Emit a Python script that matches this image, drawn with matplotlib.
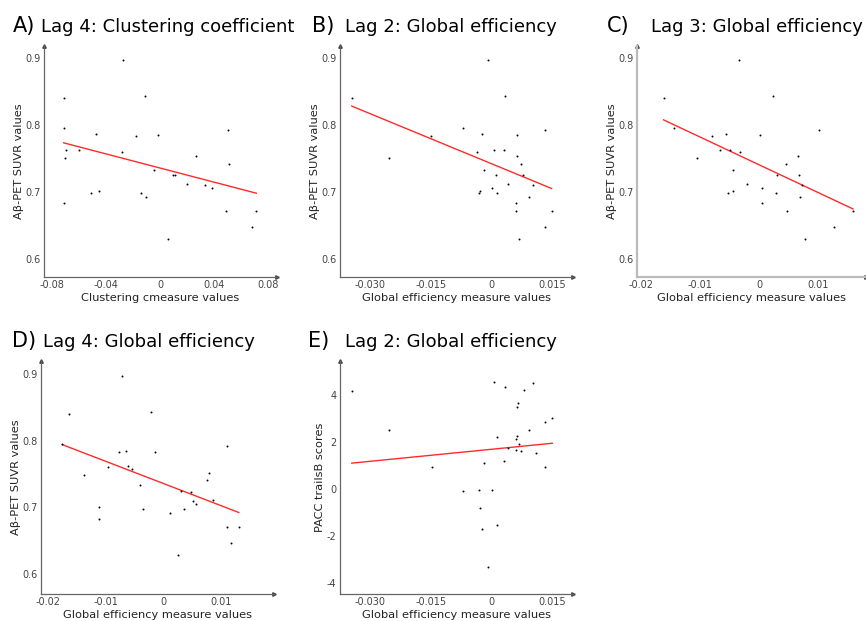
import matplotlib
matplotlib.use("Agg")
import matplotlib.pyplot as plt
import numpy as np

# A) Lag 4 clustering coefficient vs Abeta SUVR
clust_x = [-0.0711, -0.0714, -0.0696, -0.0701, -0.0709, -0.0600, -0.0474, -0.0509, -0.0452,
           -0.0274, -0.0281, -0.0114, -0.0180, -0.0141, -0.0101, -0.0012, -0.0047, 0.0094,
           0.0111, 0.0059, 0.0200, 0.0267, 0.0333, 0.0383, 0.0504, 0.0509, 0.0491, 0.0714, 0.0679]
clust_y = [0.840, 0.796, 0.762, 0.750, 0.684, 0.762, 0.786, 0.699, 0.702,
           0.897, 0.759, 0.843, 0.784, 0.699, 0.693, 0.785, 0.733, 0.726,
           0.725, 0.630, 0.712, 0.753, 0.710, 0.706, 0.793, 0.742, 0.672, 0.672, 0.647]

# B) Lag 2 global efficiency vs Abeta SUVR
ge2_x = [-0.0345, -0.0254, -0.0148, -0.0071, -0.0023, -0.0036, -0.0017, -0.0029, -0.0030,
         -0.0007, 0.0007, 0.0002, 0.0012, 0.0015, 0.0033, 0.0032, 0.0042, 0.0064, 0.0063,
         0.0073, 0.0061, 0.0060, 0.0078, 0.0068, 0.0103, 0.0094, 0.0134, 0.0134, 0.0149]
ge2_y = [0.840, 0.750, 0.784, 0.796, 0.786, 0.759, 0.733, 0.702, 0.699,
         0.897, 0.762, 0.706, 0.726, 0.699, 0.843, 0.762, 0.712, 0.785, 0.753,
         0.742, 0.684, 0.672, 0.725, 0.630, 0.710, 0.693, 0.793, 0.647, 0.672]

# C) Lag 3 global efficiency vs Abeta SUVR
ge3_x = [-0.0162, -0.0145, -0.0106, -0.0080, -0.0056, -0.0066, -0.0050, -0.0033, -0.0035,
         -0.0044, -0.0052, -0.0044, -0.0021, 0.0002, 0.0005, 0.0005, 0.0023, 0.0030, 0.0028,
         0.0046, 0.0047, 0.0065, 0.0068, 0.0073, 0.0069, 0.0102, 0.0078, 0.0127, 0.0159]
ge3_y = [0.840, 0.796, 0.750, 0.784, 0.786, 0.762, 0.762, 0.759, 0.897,
         0.733, 0.699, 0.702, 0.712, 0.785, 0.706, 0.684, 0.843, 0.725, 0.699,
         0.742, 0.672, 0.753, 0.726, 0.710, 0.693, 0.793, 0.630, 0.647, 0.672]

# D) Lag 4 global efficiency vs Abeta SUVR
ge4_x = [-0.0175, -0.0164, -0.0137, -0.0111, -0.0111, -0.0095, -0.0076, -0.0065, -0.0071,
         -0.0061, -0.0054, -0.0040, -0.0035, -0.0021, -0.0014, 0.0012, 0.0025, 0.0030, 0.0036,
         0.0048, 0.0051, 0.0057, 0.0076, 0.0080, 0.0086, 0.0110, 0.0110, 0.0117, 0.0131]
ge4_y = [0.795, 0.840, 0.749, 0.701, 0.682, 0.761, 0.783, 0.785, 0.898,
         0.763, 0.758, 0.733, 0.697, 0.843, 0.784, 0.691, 0.628, 0.724, 0.697,
         0.723, 0.710, 0.705, 0.741, 0.752, 0.711, 0.793, 0.670, 0.646, 0.670]

# E) Lag 2 global efficiency vs PACC trailsB
pacc_x = [-0.0345, -0.0254, -0.0147, -0.0070, -0.0030, 0.0002, -0.0028, -0.0022, -0.0007,
          0.0013, -0.0017, 0.0007, 0.0015, 0.0033, 0.0032, 0.0042, 0.0060, 0.0063, 0.0065,
          0.0064, 0.0062, 0.0068, 0.0074, 0.0080, 0.0094, 0.0103, 0.0110, 0.0134, 0.0134, 0.0151]
pacc_y = [4.17, 2.51, 0.95, -0.10, -0.04, -0.06, -0.79, -1.70, -3.30,
          -1.53, 1.12, 4.55, 2.23, 4.33, 1.19, 1.73, 2.11, 2.26, 3.65,
          3.49, 1.67, 1.91, 1.63, 4.21, 2.51, 4.52, 1.52, 2.84, 0.95, 3.02]

panels = [
    # letter, title, x, y, xlabel, ylabel, xlim, ylim, xticks, xticklabels, yticks, rect(px: left, top, right, bottom), title px
    ("A)", "Lag 4: Clustering coefficient", clust_x, clust_y, "Clustering cmeasure values", "A\u03b2-PET SUVR values",
     (-0.086, 0.0867), (0.573, 0.918), [-0.08, -0.04, 0, 0.04, 0.08], ["-0.08", "-0.04", "0", "0.04", "0.08"],
     [0.6, 0.7, 0.8, 0.9], ["0.6", "0.7", "0.8", "0.9"], (44, 46, 277, 277), (13, 41, 32)),
    ("B)", "Lag 2: Global efficiency", ge2_x, ge2_y, "Global efficiency measure values", "A\u03b2-PET SUVR values",
     (-0.0374, 0.0202), (0.573, 0.918), [-0.030, -0.015, 0, 0.015], ["-0.030", "-0.015", "0", "0.015"],
     [0.6, 0.7, 0.8, 0.9], ["0.6", "0.7", "0.8", "0.9"], (340, 46, 573, 277), (312, 345, 32)),
    ("C)", "Lag 3: Global efficiency", ge3_x, ge3_y, "Global efficiency measure values", "A\u03b2-PET SUVR values",
     (-0.0207, 0.0181), (0.573, 0.918), [-0.02, -0.01, 0, 0.01], ["-0.02", "-0.01", "0", "0.01"],
     [0.6, 0.7, 0.8, 0.9], ["0.6", "0.7", "0.8", "0.9"], (637, 46, 866, 277), (607, 651, 32)),
    ("D)", "Lag 4: Global efficiency", ge4_x, ge4_y, "Global efficiency measure values", "A\u03b2-PET SUVR values",
     (-0.0212, 0.0192), (0.570, 0.920), [-0.02, -0.01, 0, 0.01], ["-0.02", "-0.01", "0", "0.01"],
     [0.6, 0.7, 0.8, 0.9], ["0.6", "0.7", "0.8", "0.9"], (41, 361, 274, 594), (12, 43, 347)),
    ("E)", "Lag 2: Global efficiency", pacc_x, pacc_y, "Global efficiency measure values", "PACC trailsB scores",
     (-0.0374, 0.0202), (-4.47, 5.45), [-0.030, -0.015, 0, 0.015], ["-0.030", "-0.015", "0", "0.015"],
     [-4, -2, 0, 2, 4], ["-4", "-2", "0", "2", "4"], (340, 361, 573, 594), (308, 345, 347)),
]

W, H = 866, 621
fig = plt.figure(figsize=(W / 100, H / 100), dpi=100)

for (let, title, xs, ys, xl, yl, xlim, ylim, xt, xtl, yt, ytl, rect, tpos) in panels:
    l, t, r, b = rect
    ax = fig.add_axes([l / W, 1 - b / H, (r - l) / W, (b - t) / H])
    xs = np.array(xs)
    ys = np.array(ys)
    ax.scatter(xs, ys, s=2, color="black", linewidths=0, zorder=3)
    k, c = np.polyfit(xs, ys, 1)
    xx = np.array([xs.min(), xs.max()])
    ax.plot(xx, k * xx + c, color="#ff2a2a", lw=1.0, zorder=2)
    ax.set_xlim(*xlim)
    ax.set_ylim(*ylim)
    ax.set_xticks(xt)
    ax.set_xticklabels(xtl)
    ax.set_yticks(yt)
    ax.set_yticklabels(ytl)
    ax.tick_params(length=0, labelsize=7, labelcolor="#444444", pad=2.5)
    for s in ["top", "right"]:
        ax.spines[s].set_visible(False)
    sc = "#bbbbbb" if let == "C)" else "#666666"
    sw = 1.6 if let == "C)" else 0.9
    for s in ["left", "bottom"]:
        ax.spines[s].set_color(sc)
        ax.spines[s].set_linewidth(sw)
    ax.plot(1, 0, ">", color="#444444", ms=2.5, transform=ax.transAxes, clip_on=False)
    ax.plot(0, 1, "^", color="#444444", ms=2.5, transform=ax.transAxes, clip_on=False)
    ax.set_xlabel(xl, fontsize=8.2, color="#222222", labelpad=1.5)
    ax.set_ylabel(yl, fontsize=8.2, color="#222222", labelpad=1)
    fig.text(tpos[0] / W, 1 - tpos[2] / H, let, fontsize=15, va="baseline", ha="left")
    fig.text(tpos[1] / W, 1 - tpos[2] / H, title, fontsize=13, va="baseline", ha="left")

fig.savefig("out.png", dpi=100)
